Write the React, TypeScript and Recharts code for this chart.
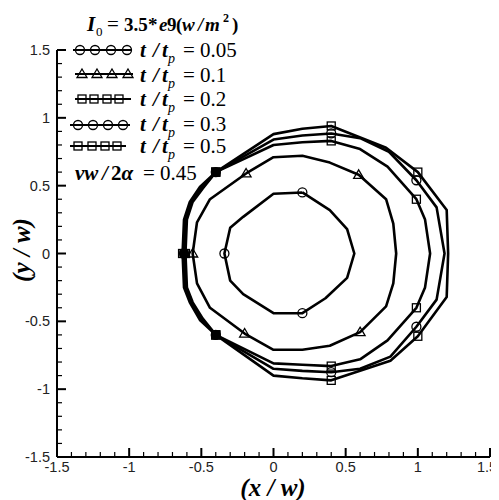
import React from 'react';
import { ScatterChart, Scatter, XAxis, YAxis } from 'recharts';

// ---------- data ----------
const xTicks = [-1.5, -1.4, -1.3, -1.2, -1.1, -1, -0.9, -0.8, -0.7, -0.6, -0.5, -0.4, -0.3, -0.2, -0.1, 0, 0.1, 0.2, 0.3, 0.4, 0.5, 0.6, 0.7, 0.8, 0.9, 1, 1.1, 1.2, 1.3, 1.4, 1.5];
const yTicks = [-1.5, -1.4, -1.3, -1.2, -1.1, -1, -0.9, -0.8, -0.7, -0.6, -0.5, -0.4, -0.3, -0.2, -0.1, 0, 0.1, 0.2, 0.3, 0.4, 0.5, 0.6, 0.7, 0.8, 0.9, 1, 1.1, 1.2, 1.3, 1.4, 1.5];

const seriesLabels = ['0.05', '0.1', '0.2', '0.3', '0.5'];

// t/tp = 0.05
const curve005: [number, number][] = [
  [0.2, 0.45], [0.39, 0.32], [0.51, 0.18], [0.56, 0], [0.51, -0.18], [0.36, -0.33], [0.2, -0.44],
  [0, -0.44], [-0.21, -0.3], [-0.3, -0.2], [-0.34, 0], [-0.3, 0.19], [-0.21, 0.27], [0, 0.44], [0.2, 0.45],
];
const markers005: [number, number][] = [[0.2, 0.45], [-0.34, 0], [0.2, -0.44]];

// t/tp = 0.1
const curve01: [number, number][] = [
  [-0.19, 0.59], [0, 0.71], [0.2, 0.72], [0.39, 0.67], [0.59, 0.58], [0.78, 0.4], [0.83, 0.22], [0.85, 0],
  [0.83, -0.22], [0.78, -0.39], [0.6, -0.58], [0.39, -0.68], [0.2, -0.71], [0, -0.71], [-0.2, -0.59],
  [-0.44, -0.4], [-0.53, -0.22], [-0.56, 0], [-0.53, 0.23], [-0.44, 0.4], [-0.19, 0.59],
];
const markers01: [number, number][] = [[-0.19, 0.59], [0.59, 0.58], [-0.56, 0], [-0.2, -0.59], [0.6, -0.58]];

// t/tp = 0.2
const curve02: [number, number][] = [
  [-0.4, 0.6], [0, 0.8], [0.2, 0.82], [0.4, 0.83], [0.6, 0.77], [0.79, 0.64], [0.99, 0.4], [1.05, 0.25],
  [1.085, 0], [1.05, -0.25], [0.99, -0.4], [0.79, -0.64], [0.6, -0.78], [0.4, -0.83], [0.2, -0.82],
  [0, -0.81], [-0.4, -0.6], [-0.49, -0.48], [-0.56, -0.36], [-0.6, -0.25], [-0.61, 0], [-0.6, 0.25],
  [-0.56, 0.38], [-0.49, 0.48], [-0.4, 0.6],
];
const markers02: [number, number][] = [[0.4, 0.83], [0.99, 0.4], [0.99, -0.4], [0.4, -0.83], [-0.4, -0.6], [-0.61, 0], [-0.4, 0.6]];

// t/tp = 0.3
const curve03: [number, number][] = [
  [-0.4, 0.6], [0, 0.84], [0.2, 0.87], [0.4, 0.885], [0.6, 0.85], [0.8, 0.75], [0.99, 0.54], [1.13, 0.34],
  [1.185, 0], [1.13, -0.34], [0.99, -0.54], [0.81, -0.76], [0.6, -0.85], [0.4, -0.875], [0.2, -0.865],
  [0, -0.85], [-0.4, -0.6], [-0.5, -0.48], [-0.57, -0.36], [-0.61, -0.25], [-0.62, 0], [-0.61, 0.25],
  [-0.57, 0.38], [-0.5, 0.48], [-0.4, 0.6],
];
const markers03: [number, number][] = [[0.4, 0.885], [0.99, 0.54], [0.99, -0.54], [0.4, -0.875], [-0.4, -0.6], [-0.62, 0], [-0.4, 0.6]];

// t/tp = 0.5
const curve05: [number, number][] = [
  [-0.4, 0.6], [0, 0.88], [0.2, 0.92], [0.4, 0.94], [0.78, 0.78], [1.0, 0.6], [1.2, 0.32], [1.21, 0],
  [1.2, -0.32], [1.0, -0.61], [0.81, -0.79], [0.4, -0.935], [0.2, -0.92], [0, -0.9], [-0.4, -0.6],
  [-0.51, -0.49], [-0.58, -0.36], [-0.62, -0.25], [-0.63, 0], [-0.62, 0.25], [-0.58, 0.38], [-0.51, 0.49],
  [-0.4, 0.6],
];
const markers05: [number, number][] = [[0.4, 0.94], [1.0, 0.6], [1.0, -0.61], [0.4, -0.935], [-0.4, -0.6], [-0.63, 0], [-0.4, 0.6]];

// points where the three outer curves' markers pile up into a solid blob
const overlapMarkers: [number, number][] = [[-0.4, 0.6], [-0.4, -0.6], [-0.62, 0]];

// ---------- helpers ----------
const toPts = (a: [number, number][]) => a.map(([x, y]) => ({ x, y }));
const SERIF = '"Liberation Serif", "Times New Roman", serif';
const SANS = '"Liberation Sans", Arial, sans-serif';
const isMajor = (v: number) => Math.abs(v * 2 - Math.round(v * 2)) < 1e-6;
const fmt = (v: number) => String(Math.round(v * 10) / 10);

type MarkerKind = 'circle' | 'triangle' | 'square';

const drawMarker = (kind: MarkerKind, cx: number, cy: number, key?: string | number) => {
  const common = { fill: 'none', stroke: '#000', strokeWidth: 1.3 };
  if (kind === 'circle') return <circle key={key} cx={cx} cy={cy} r={4.5} {...common} />;
  if (kind === 'square') return <rect key={key} x={cx - 4} y={cy - 4} width={8} height={8} {...common} />;
  return <path key={key} d={`M${cx},${cy - 5}L${cx + 5},${cy + 3.5}L${cx - 5},${cy + 3.5}Z`} {...common} />;
};

const makeShape = (kind: MarkerKind) => (props: any) => {
  const { cx, cy } = props;
  if (cx == null || cy == null) return <g />;
  return drawMarker(kind, cx, cy);
};
const FilledSquare = (props: any) => {
  const { cx, cy } = props;
  if (cx == null || cy == null) return <g />;
  return <rect x={cx - 4.5} y={cy - 4.5} width={9} height={9} fill="#000" />;
};
const EmptyShape = () => <g />;

const XTick = (props: any) => {
  const { x, y, payload } = props;
  const v = payload.value as number;
  const major = isMajor(v);
  const last = v >= 1.5 - 1e-9;
  return (
    <g>
      <line x1={x} x2={x} y1={y} y2={y - (major ? 9 : 5)} stroke="#000" strokeWidth={major ? 2 : 1.2} />
      {major && (
        <text x={last ? x - 3 : x} y={y + 15} textAnchor="middle" fontFamily={SANS} fontSize={14.5} fill="#222">
          {fmt(v)}
        </text>
      )}
    </g>
  );
};

const YTick = (props: any) => {
  const { x, y, payload } = props;
  const v = payload.value as number;
  const major = isMajor(v);
  return (
    <g>
      <line x1={x} x2={x + (major ? 9 : 5)} y1={y} y2={y} stroke="#000" strokeWidth={major ? 2 : 1.2} />
      {major && (
        <text x={x - 7} y={y + 5} textAnchor="end" fontFamily={SANS} fontSize={14.5} fill="#222">
          {fmt(v)}
        </text>
      )}
    </g>
  );
};

const curves = [
  { data: curve005, markers: markers005, kind: 'circle' as MarkerKind },
  { data: curve01, markers: markers01, kind: 'triangle' as MarkerKind },
  { data: curve02, markers: markers02, kind: 'square' as MarkerKind },
  { data: curve03, markers: markers03, kind: 'circle' as MarkerKind },
  { data: curve05, markers: markers05, kind: 'square' as MarkerKind },
];

// legend layout (page coordinates)
const legendRows = [
  { kind: 'circle' as MarkerKind, cy: 50, x0: 73, x1: 131, mx: [80, 95, 111, 127], base: 57 },
  { kind: 'triangle' as MarkerKind, cy: 74, x0: 75, x1: 133, mx: [82, 97, 112, 128], base: 82 },
  { kind: 'square' as MarkerKind, cy: 99, x0: 75, x1: 131, mx: [82, 94, 107, 119], base: 106 },
  { kind: 'circle' as MarkerKind, cy: 125, x0: 70, x1: 130, mx: [78, 93, 108, 123], base: 131 },
  { kind: 'square' as MarkerKind, cy: 146, x0: 70, x1: 126, mx: [78, 92, 105, 117], base: 153 },
];

const Overlay = () => (
  <svg
    width={499}
    height={500}
    style={{ position: 'absolute', left: -8, top: -8, pointerEvents: 'none', overflow: 'visible' }}
  >
    {/* I0 line */}
    <text y={31} fontFamily={SERIF} fontSize={19} fill="#000">
      <tspan x={87} fontSize={21} fontWeight="bold" fontStyle="italic">I</tspan>
      <tspan x={96} dy={5} fontSize={13}>0</tspan>
      <tspan x={107} dy={-5} fontSize={21}>=</tspan>
      <tspan x={124} fontWeight="bold">3.5</tspan>
      <tspan x={148} fontWeight="bold">*</tspan>
      <tspan x={159} fontWeight="bold" fontStyle="italic">e</tspan>
      <tspan x={167} fontWeight="bold">9</tspan>
      <tspan x={176} fontWeight="bold">(</tspan>
      <tspan x={182} fontWeight="bold" fontStyle="italic">w</tspan>
      <tspan x={198} fontWeight="bold" fontStyle="italic">/</tspan>
      <tspan x={205} fontWeight="bold" fontStyle="italic">m</tspan>
      <tspan x={223} dy={-9} fontSize={12} fontWeight="bold">2</tspan>
      <tspan x={232} dy={9} fontWeight="bold">)</tspan>
    </text>

    {legendRows.map((r, i) => (
      <g key={i}>
        <line x1={r.x0} x2={r.x1} y1={r.cy} y2={r.cy} stroke="#000" strokeWidth={2} />
        {r.mx.map((mx, j) => drawMarker(r.kind, mx, r.cy, j))}
        <text y={r.base} fontFamily={SERIF} fontSize={21} fill="#000">
          <tspan x={140} fontWeight="bold" fontStyle="italic">t</tspan>
          <tspan x={153} fontWeight="bold" fontStyle="italic">/</tspan>
          <tspan x={162} fontWeight="bold" fontStyle="italic">t</tspan>
          <tspan x={168} dy={6} fontSize={14} fontStyle="italic">p</tspan>
          <tspan x={183} dy={-6}>=</tspan>
          <tspan x={200}>{seriesLabels[i]}</tspan>
        </text>
      </g>
    ))}

    <text y={180} fontFamily={SERIF} fontSize={21} fill="#000">
      <tspan x={75} fontWeight="bold" fontStyle="italic">vw</tspan>
      <tspan x={102} fontWeight="bold" fontStyle="italic">/</tspan>
      <tspan x={111} fontWeight="bold">2</tspan>
      <tspan fontWeight="bold" fontStyle="italic">α</tspan>
      <tspan x={143}>=</tspan>
      <tspan x={160}>0.45</tspan>
    </text>

    {/* axis titles */}
    <text x={273} y={496} textAnchor="middle" fontFamily={SERIF} fontSize={25} fontWeight="bold" fontStyle="italic" fill="#000">
      (x / w)
    </text>
    <text
      x={0}
      y={0}
      transform="translate(30,250) rotate(-90)"
      textAnchor="middle"
      fontFamily={SERIF}
      fontSize={25}
      fontWeight="bold"
      fontStyle="italic"
      fill="#000"
    >
      (y / w)
    </text>
  </svg>
);

export default function App() {
  return (
    <div style={{ position: 'relative', width: 491, height: 492 }}>
      <ScatterChart width={491} height={492} margin={{ top: 42, right: 9, bottom: 13, left: 9 }}>
        <XAxis
          type="number"
          dataKey="x"
          domain={[-1.5, 1.5]}
          ticks={xTicks}
          interval={0}
          allowDataOverflow
          height={30}
          tickSize={0}
          tickMargin={0}
          tickLine={false}
          tick={(p: any) => <XTick {...p} />}
          axisLine={{ stroke: '#000', strokeWidth: 2 }}
        />
        <YAxis
          type="number"
          dataKey="y"
          domain={[-1.5, 1.5]}
          ticks={yTicks}
          interval={0}
          allowDataOverflow
          width={40}
          tickSize={0}
          tickMargin={0}
          tickLine={false}
          tick={(p: any) => <YTick {...p} />}
          axisLine={{ stroke: '#000', strokeWidth: 2 }}
        />
        {curves.map((c, i) => (
          <Scatter
            key={`c${i}`}
            data={toPts(c.data)}
            fill="#000"
            line={{ stroke: '#000', strokeWidth: 2.6, fill: 'none', strokeLinejoin: 'round' }}
            lineType="joint"
            shape={EmptyShape}
            isAnimationActive={false}
          />
        ))}
        {curves.map((c, i) => (
          <Scatter
            key={`m${i}`}
            data={toPts(c.markers)}
            fill="none"
            shape={makeShape(c.kind)}
            isAnimationActive={false}
          />
        ))}
        <Scatter data={toPts(overlapMarkers)} fill="#000" shape={FilledSquare} isAnimationActive={false} />
      </ScatterChart>
      <Overlay />
    </div>
  );
}
